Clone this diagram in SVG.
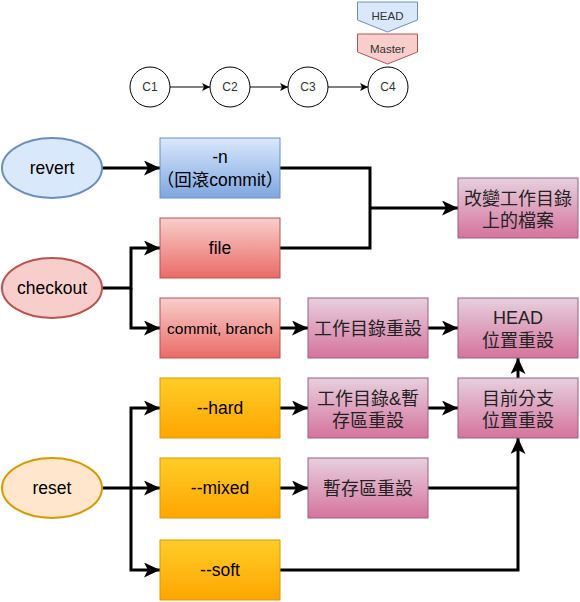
<svg xmlns="http://www.w3.org/2000/svg" width="580" height="602" viewBox="0 0 580 602">
<defs>
<linearGradient id="gBlue" x1="0" y1="0" x2="0" y2="1"><stop offset="0" stop-color="#dae8fc"/><stop offset="1" stop-color="#7ea6e0"/></linearGradient>
<linearGradient id="gRed" x1="0" y1="0" x2="0" y2="1"><stop offset="0" stop-color="#f8cecc"/><stop offset="1" stop-color="#ea6b66"/></linearGradient>
<linearGradient id="gPink" x1="0" y1="0" x2="0" y2="1"><stop offset="0" stop-color="#e6d0de"/><stop offset="1" stop-color="#d5739d"/></linearGradient>
<linearGradient id="gYel" x1="0" y1="0" x2="0" y2="1"><stop offset="0" stop-color="#ffcd28"/><stop offset="1" stop-color="#ffa500"/></linearGradient>
<marker id="big" markerUnits="userSpaceOnUse" markerWidth="17" markerHeight="16" refX="16" refY="7.5" orient="auto" viewBox="0 0 17 16">
<path d="M0,0 L16,7.5 L0,15 L4,7.5 Z" fill="#000"/>
</marker>
<marker id="small" markerUnits="userSpaceOnUse" markerWidth="9" markerHeight="9" refX="8" refY="4" orient="auto" viewBox="0 0 9 9">
<path d="M0,0 L8,4 L0,8 L2,4 Z" fill="#000"/>
</marker>
<style>
text{font-family:"Liberation Sans","Noto Sans CJK TC",Arial,sans-serif;text-anchor:middle;fill:#000}
.t11{font-size:11.5px;fill:#333}
.c12{font-size:12px;fill:#333}
.t16{font-size:17.5px}
.t14{font-size:15.5px}
.cjk{font-size:18px;fill:#222}
.blue{fill:url(#gBlue);stroke:#6c8ebf;stroke-width:1}
.red{fill:url(#gRed);stroke:#b85450;stroke-width:1}
.pink{fill:url(#gPink);stroke:#996185;stroke-width:1}
.yel{fill:url(#gYel);stroke:#d79b00;stroke-width:1}
.circ{fill:#fff;stroke:#000;stroke-width:1}
.thin{fill:none;stroke:#000;stroke-width:1;marker-end:url(#small)}
.thick{fill:none;stroke:#000;stroke-width:3}
.arr{marker-end:url(#big)}
</style>
</defs>

<g id="connectors">
<line class="thin" x1="170" y1="87" x2="210" y2="87"/>
<line class="thin" x1="250" y1="87" x2="288" y2="87"/>
<line class="thin" x1="328" y1="87" x2="368" y2="87"/>

<line class="thick arr" x1="102" y1="168" x2="160" y2="168"/>
<polyline class="thick" points="280,168 370,168 370,248 280,248"/>
<line class="thick arr" x1="370" y1="208" x2="458" y2="208"/>

<polyline class="thick arr" points="102,288 131,288 131,248 160,248"/>
<polyline class="thick arr" points="131,288 131,328 160,328"/>
<line class="thick arr" x1="280" y1="328" x2="308" y2="328"/>
<line class="thick arr" x1="428" y1="328" x2="458" y2="328"/>

<polyline class="thick arr" points="102,488 131,488 131,408 160,408"/>
<line class="thick arr" x1="131" y1="488" x2="160" y2="488"/>
<polyline class="thick arr" points="131,488 131,570 160,570"/>
<line class="thick arr" x1="280" y1="408" x2="308" y2="408"/>
<line class="thick arr" x1="280" y1="488" x2="308" y2="488"/>
<line class="thick arr" x1="428" y1="408" x2="458" y2="408"/>
<line class="thick arr" x1="518" y1="378" x2="518" y2="358"/>
<polyline class="thick" points="428,488 518,488"/>
<polyline class="thick arr" points="280,570 518,570 518,438"/>
</g>

<g id="c1"><circle class="circ" cx="150" cy="87" r="20"/><text class="c12" x="150" y="91">C1</text></g>
<g id="c2"><circle class="circ" cx="230" cy="87" r="20"/><text class="c12" x="230" y="91">C2</text></g>
<g id="c3"><circle class="circ" cx="308" cy="87" r="20"/><text class="c12" x="308" y="91">C3</text></g>
<g id="c4"><circle class="circ" cx="388" cy="87" r="20"/><text class="c12" x="388" y="91">C4</text></g>

<g id="head"><path d="M357.5,2 H417.5 V20 L387.5,32 L357.5,20 Z" fill="#dae8fc" stroke="#6c8ebf"/><text class="t11" x="387.5" y="20">HEAD</text></g>
<g id="master"><path d="M357.5,34 H417.5 V52 L387.5,64 L357.5,52 Z" fill="#f8cecc" stroke="#b85450"/><text class="t11" x="387.5" y="53">Master</text></g>

<g id="revert"><ellipse cx="52" cy="168" rx="50" ry="30" fill="#dae8fc" stroke="#6c8ebf" stroke-width="2"/><text class="t16" x="52" y="174">revert</text></g>
<g id="checkout"><ellipse cx="52" cy="288" rx="50" ry="30" fill="#f8cecc" stroke="#b85450" stroke-width="2"/><text class="t16" x="52" y="294">checkout</text></g>
<g id="reset"><ellipse cx="52" cy="488" rx="50" ry="30" fill="#ffe6cc" stroke="#d79b00" stroke-width="2"/><text class="t16" x="52" y="494">reset</text></g>

<g id="n"><rect class="blue" x="160" y="138" width="120" height="60"/><text class="t16" x="220" y="163">-n</text><text class="t16" x="220" y="186">（回滾commit）</text></g>
<g id="file"><rect class="red" x="160" y="218" width="120" height="60"/><text class="t16" x="220" y="254">file</text></g>
<g id="commitbranch"><rect class="red" x="160" y="298" width="120" height="60"/><text class="t14" x="220" y="334">commit, branch</text></g>

<g id="changefiles"><rect class="pink" x="458" y="178" width="120" height="60"/><text class="cjk" x="518" y="205">改變工作目錄</text><text class="cjk" x="518" y="227">上的檔案</text></g>
<g id="wdreset"><rect class="pink" x="308" y="298" width="120" height="60"/><text class="cjk" x="368" y="335">工作目錄重設</text></g>
<g id="headreset"><rect class="pink" x="458" y="298" width="120" height="60"/><text class="cjk" x="518" y="324">HEAD</text><text class="cjk" x="518" y="347">位置重設</text></g>

<g id="hard"><rect class="yel" x="160" y="378" width="120" height="60"/><text class="t16" x="220" y="414">--hard</text></g>
<g id="mixed"><rect class="yel" x="160" y="458" width="120" height="60"/><text class="t16" x="220" y="494">--mixed</text></g>
<g id="soft"><rect class="yel" x="160" y="540" width="120" height="60"/><text class="t16" x="220" y="576">--soft</text></g>

<g id="wdstagereset"><rect class="pink" x="308" y="378" width="120" height="60"/><text class="cjk" x="368" y="405">工作目錄&amp;暫</text><text class="cjk" x="368" y="427">存區重設</text></g>
<g id="branchreset"><rect class="pink" x="458" y="378" width="120" height="60"/><text class="cjk" x="518" y="405">目前分支</text><text class="cjk" x="518" y="427">位置重設</text></g>
<g id="stagereset"><rect class="pink" x="308" y="458" width="120" height="60"/><text class="cjk" x="368" y="495">暫存區重設</text></g>
</svg>
